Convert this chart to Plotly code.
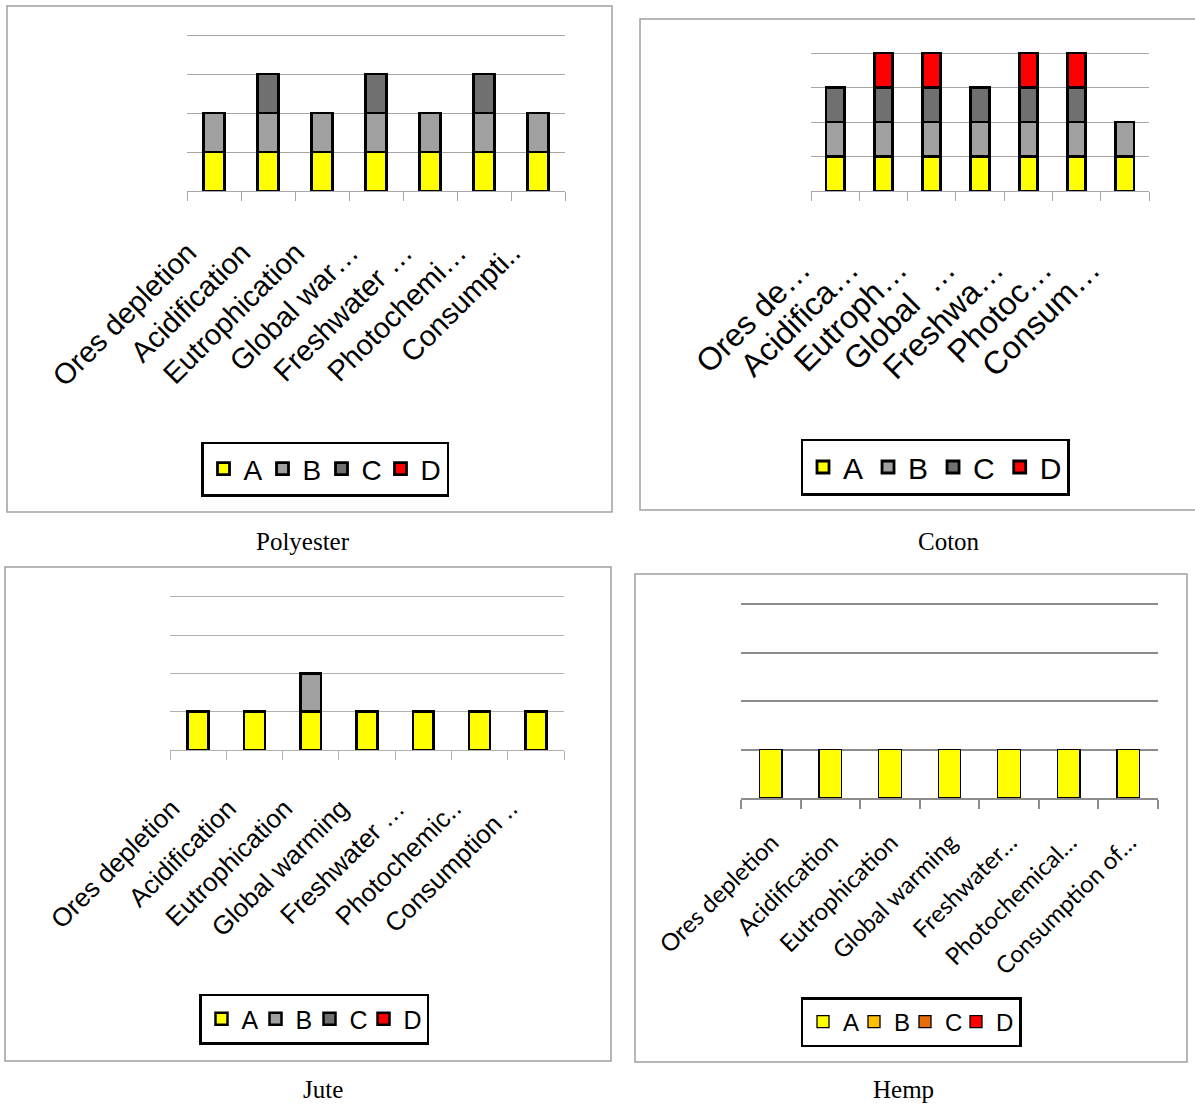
import plotly.graph_objects as go

# ---- data -------------------------------------------------------------
series_names = ["A", "B", "C", "D"]

poly_labels = ["Ores depletion", "Acidification", "Eutrophication", "Global war…",
               "Freshwater …", "Photochemi…", "Consumpti.."]
poly_A = [1, 1, 1, 1, 1, 1, 1]
poly_B = [1, 1, 1, 1, 1, 1, 1]
poly_C = [0, 1, 0, 1, 0, 1, 0]
poly_D = [0, 0, 0, 0, 0, 0, 0]

coton_labels = ["Ores de…", "Acidifica…", "Eutroph…", "Global  …",
                "Freshwa…", "Photoc…", "Consum…"]
coton_A = [1, 1, 1, 1, 1, 1, 1]
coton_B = [1, 1, 1, 1, 1, 1, 1]
coton_C = [1, 1, 1, 1, 1, 1, 0]
coton_D = [0, 1, 1, 0, 1, 1, 0]

jute_labels = ["Ores depletion", "Acidification", "Eutrophication", "Global warming",
               "Freshwater …", "Photochemic..", "Consumption .."]
jute_A = [1, 1, 1, 1, 1, 1, 1]
jute_B = [0, 0, 1, 0, 0, 0, 0]
jute_C = [0, 0, 0, 0, 0, 0, 0]
jute_D = [0, 0, 0, 0, 0, 0, 0]

hemp_labels = ["Ores depletion", "Acidification", "Eutrophication", "Global warming",
               "Freshwater…", "Photochemical…", "Consumption of…"]
hemp_A = [1, 1, 1, 1, 1, 1, 1]
hemp_B = [0, 0, 0, 0, 0, 0, 0]
hemp_C = [0, 0, 0, 0, 0, 0, 0]
hemp_D = [0, 0, 0, 0, 0, 0, 0]

captions = ["Polyester", "Coton", "Jute", "Hemp"]

# ---- styling ----------------------------------------------------------
W, H = 1195, 1104
GREY_COLORS = ["#FFFF00", "#A0A0A0", "#707070", "#FF0000"]
HEMP_COLORS = ["#FFFF00", "#FFC000", "#E46C0A", "#FF0000"]
Y_TOP = 4.06   # a little headroom so the top gridline is kept


def px_x(v):
    return v / W


def px_y(v):
    return 1 - v / H


panels = [
    dict(vals=[poly_A, poly_B, poly_C, poly_D], labels=poly_labels, colors=GREY_COLORS,
         xd=(187, 565), yd=(191, 35), bw=0.38, lw=2.8,
         tfont="Liberation Sans", tsize=29, lsize=28, lc=(325, 469), ew=14,
         grid="#A6A6A6", gw=1, shift=-26, stand=32),
    dict(vals=[coton_A, coton_B, coton_C, coton_D], labels=coton_labels, colors=GREY_COLORS,
         xd=(811, 1149), yd=(191, 53), bw=0.38, lw=2.8,
         tfont="Liberation Sans", tsize=32, lsize=30, lc=(935, 467), ew=0,
         grid="#A6A6A6", gw=1, shift=-34, stand=46),
    dict(vals=[jute_A, jute_B, jute_C, jute_D], labels=jute_labels, colors=GREY_COLORS,
         xd=(170, 564), yd=(750, 597), bw=0.37, lw=2.5,
         tfont="Liberation Sans", tsize=26, lsize=25, lc=(314, 1019), ew=9,
         grid="#B0B0B0", gw=1, shift=-26, stand=32),
    dict(vals=[hemp_A, hemp_B, hemp_C, hemp_D], labels=hemp_labels, colors=HEMP_COLORS,
         xd=(741, 1158), yd=(798, 604), bw=0.38, lw=1.3,
         tfont="Lato", tsize=24, lsize=24, lc=(911, 1022), ew=6,
         grid="#8C8C8C", gw=2, shift=1, stand=19),
]

fig = go.Figure()
layout = dict(
    width=W, height=H, margin=dict(l=0, r=0, t=0, b=0, autoexpand=False),
    paper_bgcolor="white", plot_bgcolor="white",
    barmode="stack", showlegend=True,
    shapes=[], annotations=[],
)

for i, p in enumerate(panels):
    n = i + 1
    xa = "x" if n == 1 else f"x{n}"
    ya = "y" if n == 1 else f"y{n}"
    lg = "legend" if n == 1 else f"legend{n}"
    for k, (name, vals, col) in enumerate(zip(series_names, p["vals"], p["colors"])):
        extra = {}
        if p["ew"]:
            # last entry keeps room for its own text inside the legend box
            extra["legendwidth"] = round(p["lsize"] * 0.74) if k == 3 else p["ew"]
        fig.add_trace(go.Bar(
            x=p["labels"], y=vals, name=name, xaxis=xa, yaxis=ya, legend=lg,
            width=p["bw"], marker=dict(color=col, line=dict(color="black", width=p["lw"])),
            **extra,
        ))
    base_px, top4_px = p["yd"]
    unit = (base_px - top4_px) / 4
    top_px = top4_px - (Y_TOP - 4) * unit
    layout[f"xaxis{'' if n == 1 else n}"] = dict(
        domain=[px_x(p["xd"][0]), px_x(p["xd"][1])], anchor=ya, automargin=False,
        type="category", range=[-0.5, 6.5], showgrid=False, zeroline=False,
        showline=True, linecolor=p["grid"], linewidth=p["gw"],
        ticks="outside", tickson="boundaries", ticklen=9, tickcolor=p["grid"],
        tickwidth=p["gw"], tickangle=-45,
        tickfont=dict(family=p["tfont"], size=p["tsize"], color="black"),
        ticklabelstandoff=p["stand"], ticklabelshift=p["shift"],
        fixedrange=True,
    )
    layout[f"yaxis{'' if n == 1 else n}"] = dict(
        domain=[px_y(base_px), px_y(top_px)], anchor=xa, automargin=False,
        range=[0, Y_TOP], tick0=0, dtick=1, showgrid=True,
        gridcolor=p["grid"], gridwidth=p["gw"],
        zeroline=False, showline=False, showticklabels=False, ticks="",
        fixedrange=True,
    )
    layout[lg] = dict(
        orientation="h", x=px_x(p["lc"][0]), y=px_y(p["lc"][1]),
        xanchor="center", yanchor="middle", traceorder="normal",
        bordercolor="black", borderwidth=2.5, bgcolor="white",
        font=dict(family="Liberation Sans", size=p["lsize"], color="black"),
    )

# panel frames
frames = [(7, 6, 612, 512), (640, 19, 1196, 510), (5, 567, 611, 1061), (635, 574, 1187, 1062)]
for (x0, y0, x1, y1) in frames:
    layout["shapes"].append(dict(
        type="rect", xref="paper", yref="paper",
        x0=px_x(x0), x1=px_x(x1), y0=px_y(y1), y1=px_y(y0),
        line=dict(color="#A0A0A0", width=1.5), fillcolor="rgba(0,0,0,0)",
    ))

# captions under each panel
cap_pos = [(303, 541), (949, 541), (323, 1089), (903, 1089)]
for text, (cx, cy) in zip(captions, cap_pos):
    layout["annotations"].append(dict(
        text=text, xref="paper", yref="paper", x=px_x(cx), y=px_y(cy),
        xanchor="center", yanchor="middle", showarrow=False,
        font=dict(family="Liberation Serif", size=25, color="black"),
    ))

fig.update_layout(**layout)
fig.write_html("out.html")
